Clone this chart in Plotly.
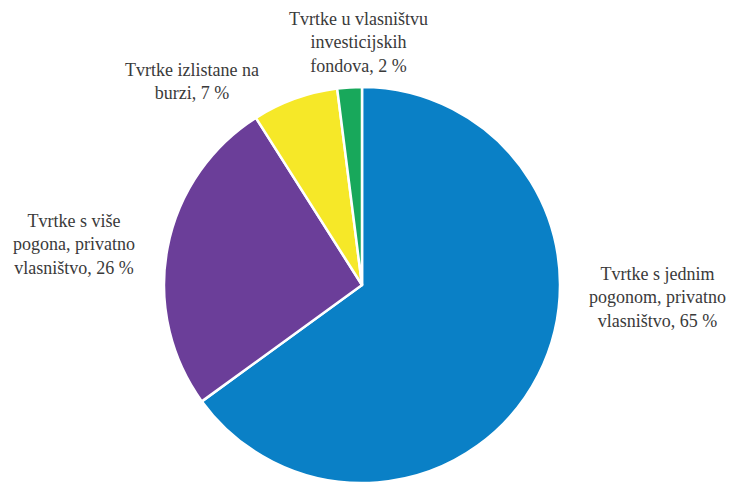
import plotly.graph_objects as go

labels = ["Tvrtke s jednim<br>pogonom, privatno<br>vlasništvo, 65 %",
          "Tvrtke s više<br>pogona, privatno<br>vlasništvo, 26 %",
          "Tvrtke izlistane na<br>burzi, 7 %",
          "Tvrtke u vlasništvu<br>investicijskih<br>fondova, 2 %"]
values = [65, 26, 7, 2]
colors = ["#0A80C6", "#6B3E99", "#F6E828", "#18A85B"]

W, H = 733, 487
fig = go.Figure(go.Pie(
    values=values, labels=labels, sort=False, direction="clockwise", rotation=0,
    marker=dict(colors=colors, line=dict(color="white", width=2.5)),
    textinfo="none", hoverinfo="label+percent", showlegend=False,
    domain=dict(x=[(362-198)/W, (362+198)/W], y=[1-484/H, 1-86/H]),
))

# label positions (pixels): center x, center y
label_pos = [(657, 297), (74, 245), (192, 82), (358, 42)]
for txt, (px, py) in zip(labels, label_pos):
    fig.add_annotation(text=txt, x=px/W, y=1-py/H, xref="paper", yref="paper",
                       showarrow=False, xanchor="center", yanchor="middle",
                       font=dict(family="Liberation Serif", size=18, color="#3a3a3a"))

fig.update_layout(width=W, height=H, margin=dict(l=0, r=0, t=0, b=0),
                  paper_bgcolor="white", plot_bgcolor="white")
fig.write_html("out.html", post_script="document.body.style.margin='0';",
               config={"displayModeBar": False})
